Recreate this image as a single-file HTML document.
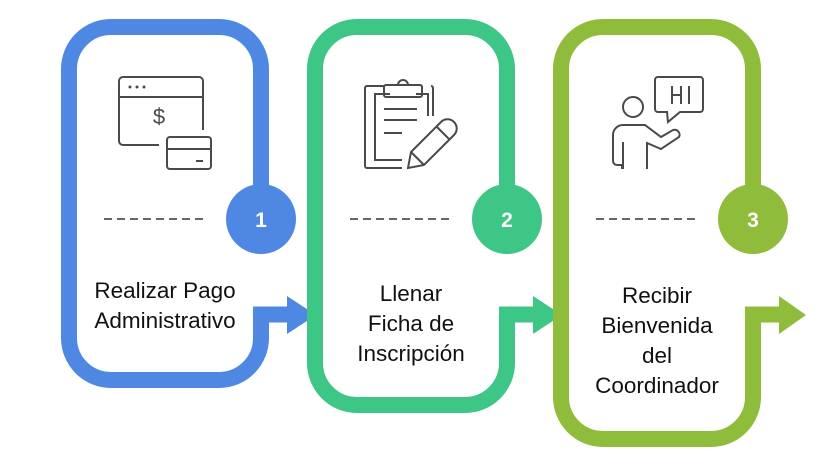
<!DOCTYPE html>
<html><head><meta charset="utf-8"><style>
html,body{margin:0;padding:0;background:#fff;width:840px;height:467px;overflow:hidden}
svg{display:block}
text{font-family:"Liberation Sans",sans-serif}
</style></head><body>
<svg width="840" height="467" viewBox="0 0 840 467">
<!-- Box 1 -->
<g>
<path d="M261 219 V69 A42 42 0 0 0 219 27 H111 A42 42 0 0 0 69 69 V338 A42 42 0 0 0 111 380 H219 A42 42 0 0 0 261 338 V314.5 H288" fill="none" stroke="#4f88e3" stroke-width="16" stroke-linejoin="miter"/>
<polygon points="287,296 316,315 287,334" fill="#4f88e3"/>
<circle cx="261" cy="219" r="35" fill="#4f88e3"/>
<text x="261" y="227" fill="#fff" font-size="21" font-weight="bold" text-anchor="middle">1</text>
<line x1="104" y1="219" x2="204" y2="219" stroke="#666" stroke-width="2" stroke-dasharray="8,5"/>
<text x="165" y="298" font-size="22.5" text-anchor="middle" fill="#111">Realizar Pago</text>
<text x="165" y="328" font-size="22.5" text-anchor="middle" fill="#111">Administrativo</text>
<g fill="none" stroke="#4a4a4a" stroke-width="2">
<path d="M203 130 V81 a4 4 0 0 0 -4 -4 H123 a4 4 0 0 0 -4 4 V141 a4 4 0 0 0 4 4 H159"/>
<line x1="119" y1="97" x2="203" y2="97"/>
<rect x="167" y="137" width="44" height="32" rx="3"/>
<line x1="167" y1="149" x2="211" y2="149"/>
<line x1="196" y1="161" x2="203" y2="161"/>
</g>
<g fill="#4a4a4a"><circle cx="130" cy="87" r="1.5"/><circle cx="137" cy="87" r="1.5"/><circle cx="144" cy="87" r="1.5"/></g>
<text x="159" y="124" font-size="22" text-anchor="middle" fill="#4a4a4a">$</text>
</g>
<!-- Box 2 -->
<g>
<path d="M507 219 V69 A42 42 0 0 0 465 27 H357 A42 42 0 0 0 315 69 V363 A42 42 0 0 0 357 405 H465 A42 42 0 0 0 507 363 V314.5 H534" fill="none" stroke="#3ec686" stroke-width="16"/>
<polygon points="533,296 562,315 533,334" fill="#3ec686"/>
<circle cx="507" cy="219" r="35" fill="#3ec686"/>
<text x="507" y="227" fill="#fff" font-size="21" font-weight="bold" text-anchor="middle">2</text>
<line x1="350" y1="219" x2="450" y2="219" stroke="#666" stroke-width="2" stroke-dasharray="8,5"/>
<text x="411" y="301" font-size="22.5" text-anchor="middle" fill="#111">Llenar</text>
<text x="411" y="331" font-size="22.5" text-anchor="middle" fill="#111">Ficha de</text>
<text x="411" y="361" font-size="22.5" text-anchor="middle" fill="#111">Inscripción</text>
<g fill="none" stroke="#4a4a4a" stroke-width="2">
<path d="M384 86 H367 a2 2 0 0 0 -2 2 V166 a2 2 0 0 0 2 2 H402"/>
<path d="M431 86 a2 2 0 0 1 2 2 V116"/>
<path d="M390 94 H375 V160 H402"/>
<path d="M416 94 H428 V116"/>
<rect x="384" y="85" width="38" height="12" rx="2"/>
<path d="M398 85 a5 5 0 0 1 10 0"/>
<line x1="384" y1="109" x2="417" y2="109"/>
<line x1="384" y1="120" x2="417" y2="120"/>
<line x1="384" y1="133" x2="402" y2="133"/>
<path d="M411 152 L441 122 a5 5 0 0 1 13 13 L424 165 L408 168 Z"/>
<line x1="437" y1="127" x2="449" y2="139"/>
<line x1="411" y1="152" x2="424" y2="165"/>
</g>
</g>
<!-- Box 3 -->
<g>
<path d="M753 219 V69 A42 42 0 0 0 711 27 H603 A42 42 0 0 0 561 69 V397 A42 42 0 0 0 603 439 H711 A42 42 0 0 0 753 397 V314.5 H780" fill="none" stroke="#8fbc3b" stroke-width="16"/>
<polygon points="779,296 806,315 779,334" fill="#8fbc3b"/>
<circle cx="753" cy="219" r="35" fill="#8fbc3b"/>
<text x="753" y="227" fill="#fff" font-size="21" font-weight="bold" text-anchor="middle">3</text>
<line x1="596" y1="219" x2="696" y2="219" stroke="#666" stroke-width="2" stroke-dasharray="8,5"/>
<text x="657" y="303" font-size="22.5" text-anchor="middle" fill="#111">Recibir</text>
<text x="657" y="333" font-size="22.5" text-anchor="middle" fill="#111">Bienvenida</text>
<text x="657" y="363" font-size="22.5" text-anchor="middle" fill="#111">del</text>
<text x="657" y="393" font-size="22.5" text-anchor="middle" fill="#111">Coordinador</text>
<g fill="none" stroke="#4a4a4a" stroke-width="2">
<circle cx="633" cy="107" r="10"/>
<path d="M622 169 V165 H617 a4 4 0 0 1 -4 -4 V135 a10 10 0 0 1 10 -10 H645 L661 137 L673 130 a5 5 0 0 1 6 7 L661 149 L647 143 V169"/>
<line x1="623" y1="142" x2="623" y2="169"/>
<path d="M667 112 H658 a3 3 0 0 1 -3 -3 V80 a3 3 0 0 1 3 -3 H700 a3 3 0 0 1 3 3 V109 a3 3 0 0 1 -3 3 H680 L668 122 Z"/>
<path d="M672 86 V104 M672 95 H681 M681 86 V104 M689 86 V104"/>
</g>
</g>
</svg>
</body></html>
